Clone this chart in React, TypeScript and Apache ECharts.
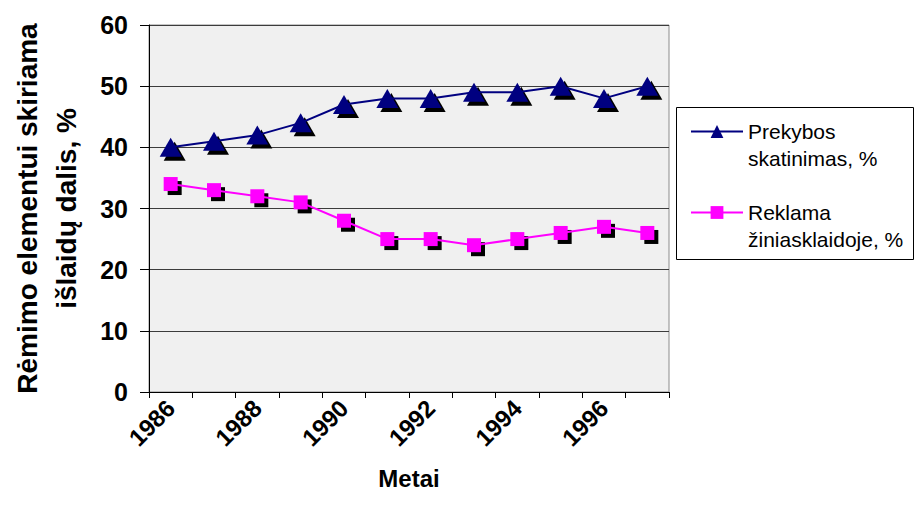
import React, { useEffect, useRef } from "react";
import * as echarts from "echarts";

const years = ["1986", "1987", "1988", "1989", "1990", "1991", "1992", "1993", "1994", "1995", "1996", "1997"];
const prekybos = [40, 41, 42, 44, 47, 48, 48, 49, 49, 50, 48, 50];
const reklama = [34, 33, 32, 31, 28, 25, 25, 24, 25, 26, 27, 26];
const seriesNames = ["Prekybos\nskatinimas, %", "Reklama\nžiniasklaidoje, %"];
const yAxisTitle = "Rėmimo elementui skiriama\nišlaidų dalis, %";
const xAxisTitle = "Metai";

const FONT = "'Liberation Sans', Arial, Helvetica, sans-serif";

export default function App() {
  const ref = useRef<HTMLDivElement>(null);
  useEffect(() => {
    if (!ref.current) return;
    const chart = echarts.init(ref.current, null, { renderer: "svg" });
    const triSize = [22, 19];
    const sqSize = 14;
    chart.setOption({
      animation: false,
      backgroundColor: "#ffffff",
      textStyle: { fontFamily: FONT },
      grid: {
        left: 147,
        top: 25,
        right: 245,
        bottom: 129,
        show: true,
        backgroundColor: "#f0f0f0",
        borderColor: "#8c8c8c",
        borderWidth: 1,
      },
      graphic: [
        {
          type: "rect",
          left: 676,
          top: 107,
          z: 0,
          shape: { width: 237, height: 152 },
          style: { fill: "#ffffff", stroke: "#000000", lineWidth: 1 },
        },
      ],
      legend: {
        data: seriesNames,
        orient: "vertical",
        left: 685,
        top: 86,
        itemWidth: 52,
        itemHeight: 16,
        itemGap: 0,
        z: 5,
        formatter: (name: string) => "\n" + name,
        textStyle: {
          fontFamily: FONT,
          fontSize: 21,
          color: "#000",
          lineHeight: 27,
        },
      },
      xAxis: {
        type: "category",
        data: years,
        boundaryGap: true,
        name: xAxisTitle,
        nameLocation: "middle",
        nameGap: 74,
        nameTextStyle: { fontFamily: FONT, fontSize: 24, fontWeight: "bold", color: "#000" },
        axisLine: { lineStyle: { color: "#000", width: 1 } },
        axisTick: { show: true, interval: 0, length: 6, lineStyle: { color: "#000" } },
        axisLabel: {
          interval: 1,
          rotate: 45,
          margin: 12,
          fontFamily: FONT,
          fontSize: 24,
          fontWeight: "bold",
          color: "#000",
        },
        splitLine: { show: false },
      },
      yAxis: {
        type: "value",
        min: 0,
        max: 60,
        interval: 10,
        name: yAxisTitle,
        nameLocation: "middle",
        nameRotate: 90,
        nameGap: 63,
        nameTextStyle: {
          fontFamily: FONT,
          fontSize: 28,
          fontWeight: "bold",
          color: "#000",
          lineHeight: 39,
          align: "center",
        },
        axisLine: { show: true, lineStyle: { color: "#000", width: 1 } },
        axisTick: { show: true, length: 9, lineStyle: { color: "#000" } },
        axisLabel: {
          margin: 21,
          fontFamily: FONT,
          fontSize: 25,
          fontWeight: "bold",
          color: "#000",
        },
        splitLine: { show: true, lineStyle: { color: "#3c3c3c", width: 1 } },
      },
      series: [
        {
          name: "shadow1",
          type: "line",
          data: prekybos,
          symbol: "triangle",
          symbolSize: triSize,
          symbolOffset: [4, 4],
          showAllSymbol: true,
          itemStyle: { color: "#000" },
          lineStyle: { opacity: 0 },
          silent: true,
          z: 2,
        },
        {
          name: "shadow2",
          type: "line",
          data: reklama,
          symbol: "rect",
          symbolSize: sqSize,
          symbolOffset: [4, 4],
          showAllSymbol: true,
          itemStyle: { color: "#000" },
          lineStyle: { opacity: 0 },
          silent: true,
          z: 2,
        },
        {
          name: seriesNames[0],
          type: "line",
          data: prekybos,
          symbol: "triangle",
          symbolSize: triSize,
          showAllSymbol: true,
          itemStyle: { color: "#000080" },
          lineStyle: { color: "#000080", width: 2 },
          z: 3,
        },
        {
          name: seriesNames[1],
          type: "line",
          data: reklama,
          symbol: "rect",
          symbolSize: sqSize,
          showAllSymbol: true,
          itemStyle: { color: "#ff00ff" },
          lineStyle: { color: "#ff00ff", width: 2 },
          z: 3,
        },
      ],
    });
    return () => chart.dispose();
  }, []);
  return (
    <div
      ref={ref}
      style={{ position: "fixed", left: 0, top: 0, width: 914, height: 521 }}
    />
  );
}
